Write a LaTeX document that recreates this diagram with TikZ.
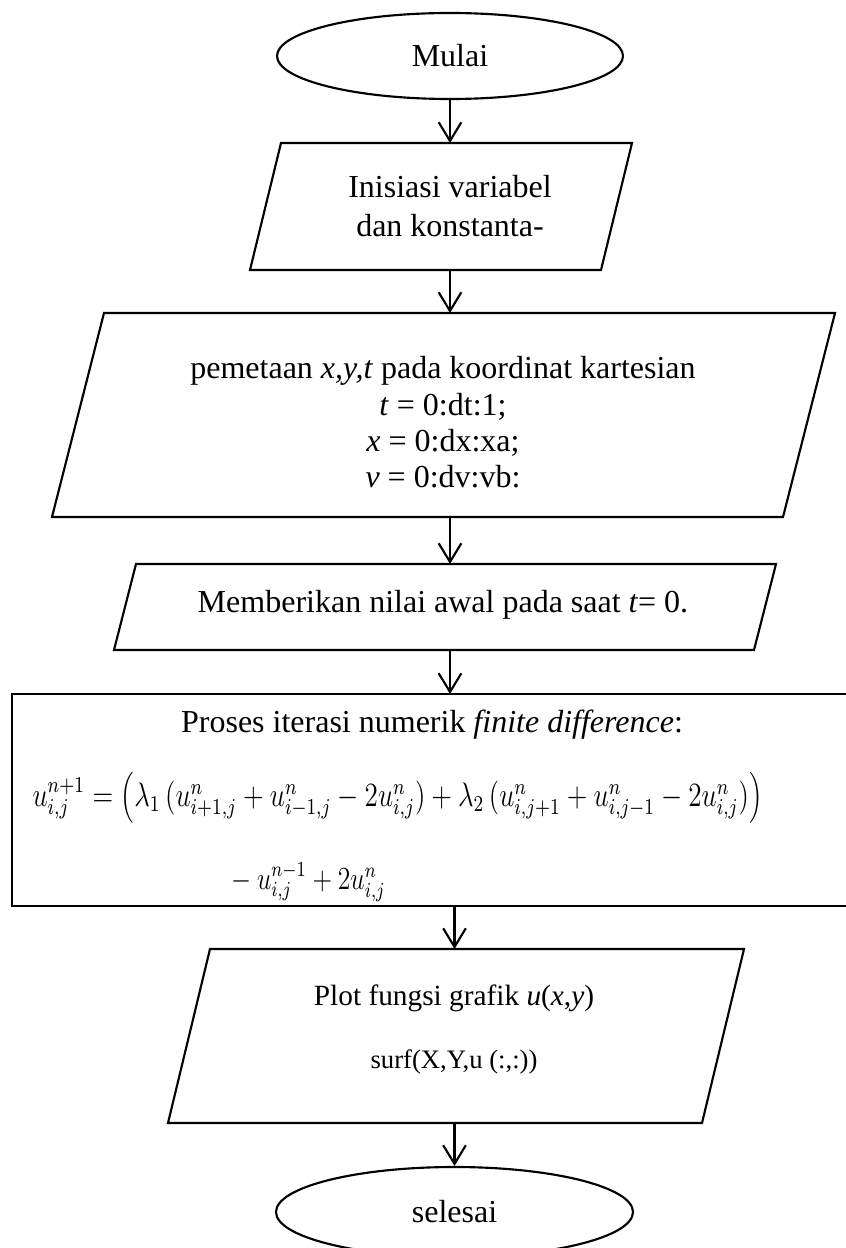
\documentclass[tikz,border=0pt]{standalone}
\usepackage{graphicx}
\usepackage{fontspec}
\setmainfont{Liberation Serif}
\usetikzlibrary{shapes.geometric,arrows.meta}
\def\pxu{0.375pt}
\newcommand\drawpara[2]{\draw[shapeline] ([xshift=#2*\pxu]#1.north west) -- (#1.north east) -- ([xshift=-#2*\pxu]#1.south east) -- (#1.south west) -- cycle;}
\begin{document}
\begin{tikzpicture}[x=0.375pt,y=-0.375pt,
  shapeline/.style={line width=0.8pt, line join=miter},
  arr/.style={line width=0.8pt, -{Straight Barb[length=7pt,width=8.5pt,line width=0.8pt]}},
  term/.style={ellipse, draw, line width=0.8pt, inner sep=0pt, font=\fontsize{12}{14}\selectfont},
  blk/.style={inner sep=0pt, outer sep=0pt},
  txt/.style={inner sep=0pt, font=\fontsize{12}{14}\selectfont, align=center},
]
\useasboundingbox (0,0) rectangle (846,1248);
\fill[white] (0,0) rectangle (846,1248);

% start
\node[term, minimum width=346*\pxu, minimum height=86*\pxu] (start) at (450,56) {Mulai};

% input 1
\node[blk, minimum width=382*\pxu, minimum height=127*\pxu] (p1) at (441,206.5) {};
\drawpara{p1}{31}
\node[txt, font=\fontsize{12}{14.6}\selectfont] (t1) at (450,206.5) {Inisiasi variabel\\dan konstanta-};

% input 2
\node[blk, minimum width=783*\pxu, minimum height=204*\pxu] (p2) at (443.5,415) {};
\drawpara{p2}{52}
\node[txt, font=\fontsize{12}{13.6}\selectfont] (t2) at (443,422.5) {pemetaan \textit{x,y,t} pada koordinat kartesian\\\textit{t} = 0:dt:1;\\\textit{x} = 0:dx:xa;\\\textit{v} = 0:dv:vb:};

% input 3
\node[blk, minimum width=662*\pxu, minimum height=86*\pxu] (p3) at (445,607) {};
\drawpara{p3}{22}
\node[txt] (t3) at (443,605) {Memberikan nilai awal pada saat \textit{t}= 0.};

% process
\node[blk, draw, line width=0.8pt, minimum width=835*\pxu, minimum height=212*\pxu] (proc) at (429.5,800) {};
\node[txt] (ptitle) at (432,725) {Proses iterasi numerik \textit{finite difference}:};
\node[txt, anchor=west] (peq1) at (32,798) {\scalebox{1}[1.25]{\resizebox{273.75pt}{!}{$u_{i,j}^{n+1} = \Big(\lambda_1\,\big(u^n_{i+1,j} + u^n_{i-1,j} - 2u^n_{i,j}\big) + \lambda_2\,\big(u^n_{i,j+1} + u^n_{i,j-1} - 2u^n_{i,j}\big)\Big)$}}};
\node[txt, anchor=west] (peq2) at (225,882) {\scalebox{1}[1.25]{\resizebox{60pt}{!}{${}-u^{n-1}_{i,j} + 2u^n_{i,j}$}}};

% output
\node[blk, minimum width=576*\pxu, minimum height=174*\pxu] (p4) at (456,1036) {};
\drawpara{p4}{42}
\node[txt, font=\fontsize{11}{13}\selectfont] (t4a) at (454,998) {Plot fungsi grafik \textit{u}(\textit{x},\textit{y})};
\node[txt, font=\fontsize{10}{12}\selectfont] (t4b) at (454,1062) {surf(X,Y,u (:,:))};

% end
\node[term, minimum width=357*\pxu, minimum height=90*\pxu] (end) at (454.5,1212) {selesai};

% connectors
\draw[arr] (start.south) -- (start.south |- p1.north);
\draw[arr] (p1.south -| start.south) -- (p2.north -| start.south);
\draw[arr] (p2.south -| start.south) -- (p3.north -| start.south);
\draw[arr] (p3.south -| start.south) -- (proc.north -| start.south);
\draw[arr] (proc.south -| end.north) -- (p4.north -| end.north);
\draw[arr] (p4.south -| end.north) -- (end.north);
\end{tikzpicture}
\end{document}
